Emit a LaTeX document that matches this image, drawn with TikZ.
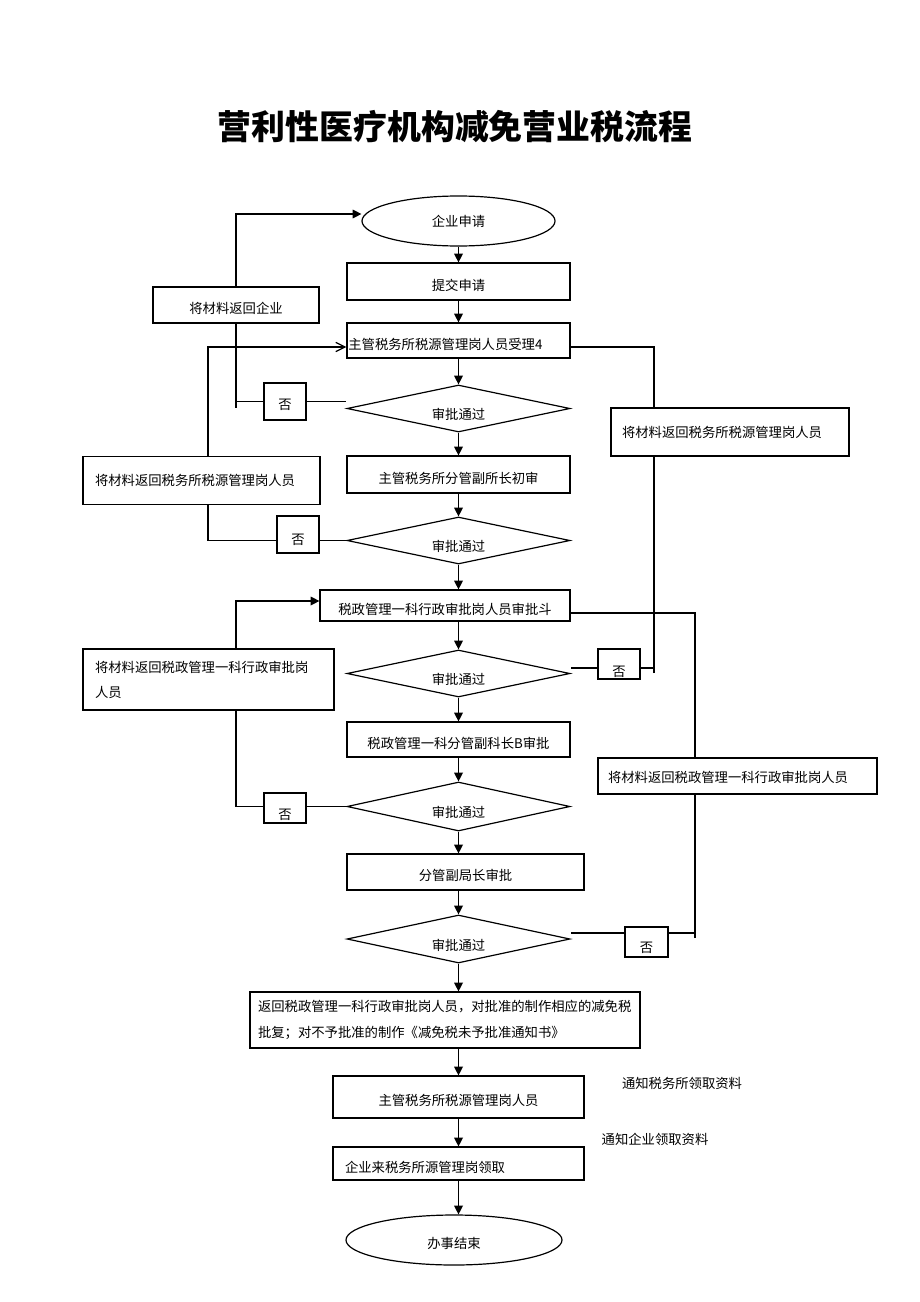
\documentclass[tikz,border=0pt]{standalone}
\usepackage{fontspec}
\setmainfont{Noto Sans CJK SC}
\usetikzlibrary{shapes.geometric,arrows.meta}
\begin{document}
\begin{tikzpicture}[x=0.75pt,y=-0.75pt,
  every node/.style={font=\fontsize{10pt}{18.75pt}\selectfont, inner sep=0pt},
  box/.style={draw, line width=0.9pt, rectangle, minimum width=167.25pt, minimum height=27pt, align=center},
  lbox/.style={box, align=left},
  low/.style={text height=14pt, text depth=1pt},
  dia/.style={draw, line width=0.9pt, diamond, minimum width=167.25pt, minimum height=35.25pt, label={[yshift=-4.5pt]center:审批通过}},
  ell/.style={draw, line width=0.9pt, ellipse},
  nobox/.style={draw, line width=0.9pt, minimum width=31.5pt, minimum height=27.75pt},
  link/.style={line width=0.9pt},
  heavylink/.style={line width=1.4pt},
  arr/.style={link, -{Triangle[length=6.5pt,width=6.5pt]}},
  openarr/.style={link, -{Straight Barb[length=7pt,width=7pt]}},
]
\useasboundingbox (0,0) rectangle (920,1302);

% title
\node[font=\fontsize{25.4pt}{30pt}\selectfont\bfseries] (title) at (455,127) {营利性医疗机构减免营业税流程};

% main column
\node[ell, minimum width=144.75pt, minimum height=37.5pt] (start) at (458.5,221) {企业申请};
\node[box, low, minimum height=27.75pt] (submit) at (458.5,281.5) {提交申请};
\node[lbox, low, text width=165.25pt, inner xsep=1pt, minimum height=26.25pt] (accept) at (458.5,340.5) {主管税务所税源管理岗人员受理4};
\node[dia] (d1) at (458.5,408.5) {};
\node[box, low, minimum height=27.75pt] (review) at (458.5,474.5) {主管税务所分管副所长初审};
\node[dia] (d2) at (458.5,540.5) {};
\node[box, low, minimum width=187.5pt, minimum height=23.25pt] (approve) at (445,605.5) {税政管理一科行政审批岗人员审批斗};
\node[dia] (d3) at (458.5,673.5) {};
\node[box, low, minimum height=26.25pt] (deputy) at (458.5,739.5) {税政管理一科分管副科长B审批};
\node[dia, minimum height=36.75pt] (d4) at (458.5,806.5) {};
\node[box, low, minimum width=177.75pt, minimum height=27pt] (bureau) at (465.5,872) {分管副局长审批};
\node[dia, minimum height=36pt] (d5) at (458.5,939) {};
\node[lbox, text width=280.5pt, inner xsep=6pt, minimum height=42pt, font=\fontsize{10pt}{19.5pt}\selectfont] (ret) at (445,1020) {返回税政管理一科行政审批岗人员，对批准的制作相应的减免税\\批复；对不予批准的制作《减免税未予批准通知书》};
\node[box, low, minimum width=188.25pt, minimum height=31.5pt] (staff) at (458.5,1097) {主管税务所税源管理岗人员};
\node[lbox, low, text width=170.25pt, inner xsep=9pt, minimum height=24.75pt] (collect) at (458.5,1163.5) {企业来税务所源管理岗领取};
\node[ell, low, minimum width=162pt, minimum height=37.5pt] (end) at (454,1240) {办事结束};

% left boxes
\node[box, low, minimum width=124.5pt, minimum height=27pt] (L1) at (236,305) {将材料返回企业};
\node[lbox, text width=159.75pt, inner xsep=9pt, minimum height=36pt] (L2) at (201.5,480.5) {将材料返回税务所税源管理岗人员};
\node[lbox, text width=170.25pt, inner xsep=9pt, minimum height=45.75pt] (L3) at (208.5,679.5) {将材料返回税政管理一科行政审批岗\\人员};
\node[nobox, label={[yshift=-2.5pt]center:否}] (N1) at (285,401.5) {};
\node[nobox, label={[yshift=-4pt]center:否}] (N2) at (298,534.5) {};
\node[nobox, minimum height=22.5pt, label={[yshift=-5pt]center:否}] (N3) at (285,808) {};

% right boxes
\node[nobox, minimum height=22.5pt, label={[yshift=-6pt]center:否}] (R1) at (619,664) {};
\node[nobox, minimum width=32.25pt, minimum height=22.5pt, label={[yshift=-4.5pt]center:否}] (R2) at (646.5,942) {};
\node[lbox, text width=162pt, inner xsep=8.25pt, minimum height=36pt] (RB1) at (730,432) {将材料返回税务所税源管理岗人员};
\node[lbox, text width=194.25pt, inner xsep=7.5pt, minimum height=27pt, text height=11pt, text depth=1pt] (RB2) at (737.5,776) {将材料返回税政管理一科行政审批岗人员};

% notes
\node (n1) at (682,1083) {通知税务所领取资料};
\node (n2) at (655,1139) {通知企业领取资料};

% main flow arrows
\draw[arr] (start) -- (submit);
\draw[arr] (submit) -- (accept);
\draw[arr] (accept) -- (d1);
\draw[arr] (d1) -- (review);
\draw[arr] (review) -- (d2);
\draw[arr] (d2.south) -- (d2.south |- approve.north);
\draw[arr] (approve.south -| d3.north) -- (d3.north);
\draw[arr] (d3) -- (deputy);
\draw[arr] (deputy) -- (d4);
\draw[arr] (d4.south) -- (d4.south |- bureau.north);
\draw[arr] (bureau.south -| d5.north) -- (d5.north);
\draw[arr] (d5.south) -- (d5.south |- ret.north);
\draw[arr] (ret.south -| staff.north) -- (staff.north);
\draw[arr] (staff) -- (collect);
\draw[arr] (collect.south) -- (collect.south |- end.north);

% left loops
\draw[arr] (L1.north) |- ([yshift=5.25pt]start.west);
\coordinate (c1) at (236,408);
\draw[link] (L1.south) -- (c1);
\draw[link] (N1.east) -- (N1.east -| d1.west);
\draw[link] (N1.west) -- (N1.west -| c1);

\draw[openarr] ([xshift=4.875pt]L2.north) |- ([yshift=-4.875pt]accept.west);
\draw[link] ([xshift=4.875pt]L2.south) |- (N2.west |- d2.west);
\draw[link] (N2.east |- d2.west) -- (d2.west);

\draw[arr] ([xshift=20.625pt]L3.north) |- ([yshift=3.375pt]approve.west);
\draw[link] ([xshift=20.625pt]L3.south) |- (N3.west |- d4.west);
\draw[link] (N3.east |- d4.west) -- (d4.west);

% right loops
\coordinate (r1) at (654,673);
\draw[link] ([yshift=-3pt]R1.west) -- ([yshift=-3pt]R1.west -| d3.east);
\draw[link] ([yshift=-3pt]R1.east) -- ([yshift=-3pt]R1.east -| r1);
\draw[link] (r1) -- (r1 |- RB1.south);
\draw[link] (r1 |- RB1.north) |- ([yshift=-4.875pt]accept.east);

\coordinate (r2) at (695,938);
\draw[link] ([yshift=6.75pt]R2.west) -- ([yshift=6.75pt]R2.west -| d5.east);
\draw[link] ([yshift=6.75pt]R2.east) -- ([yshift=6.75pt]R2.east -| r2);
\draw[heavylink] (r2) -- (r2 |- RB2.south);
\draw[heavylink] (r2 |- RB2.north) |- ([yshift=-5.625pt]approve.east);
\end{tikzpicture}
\end{document}
